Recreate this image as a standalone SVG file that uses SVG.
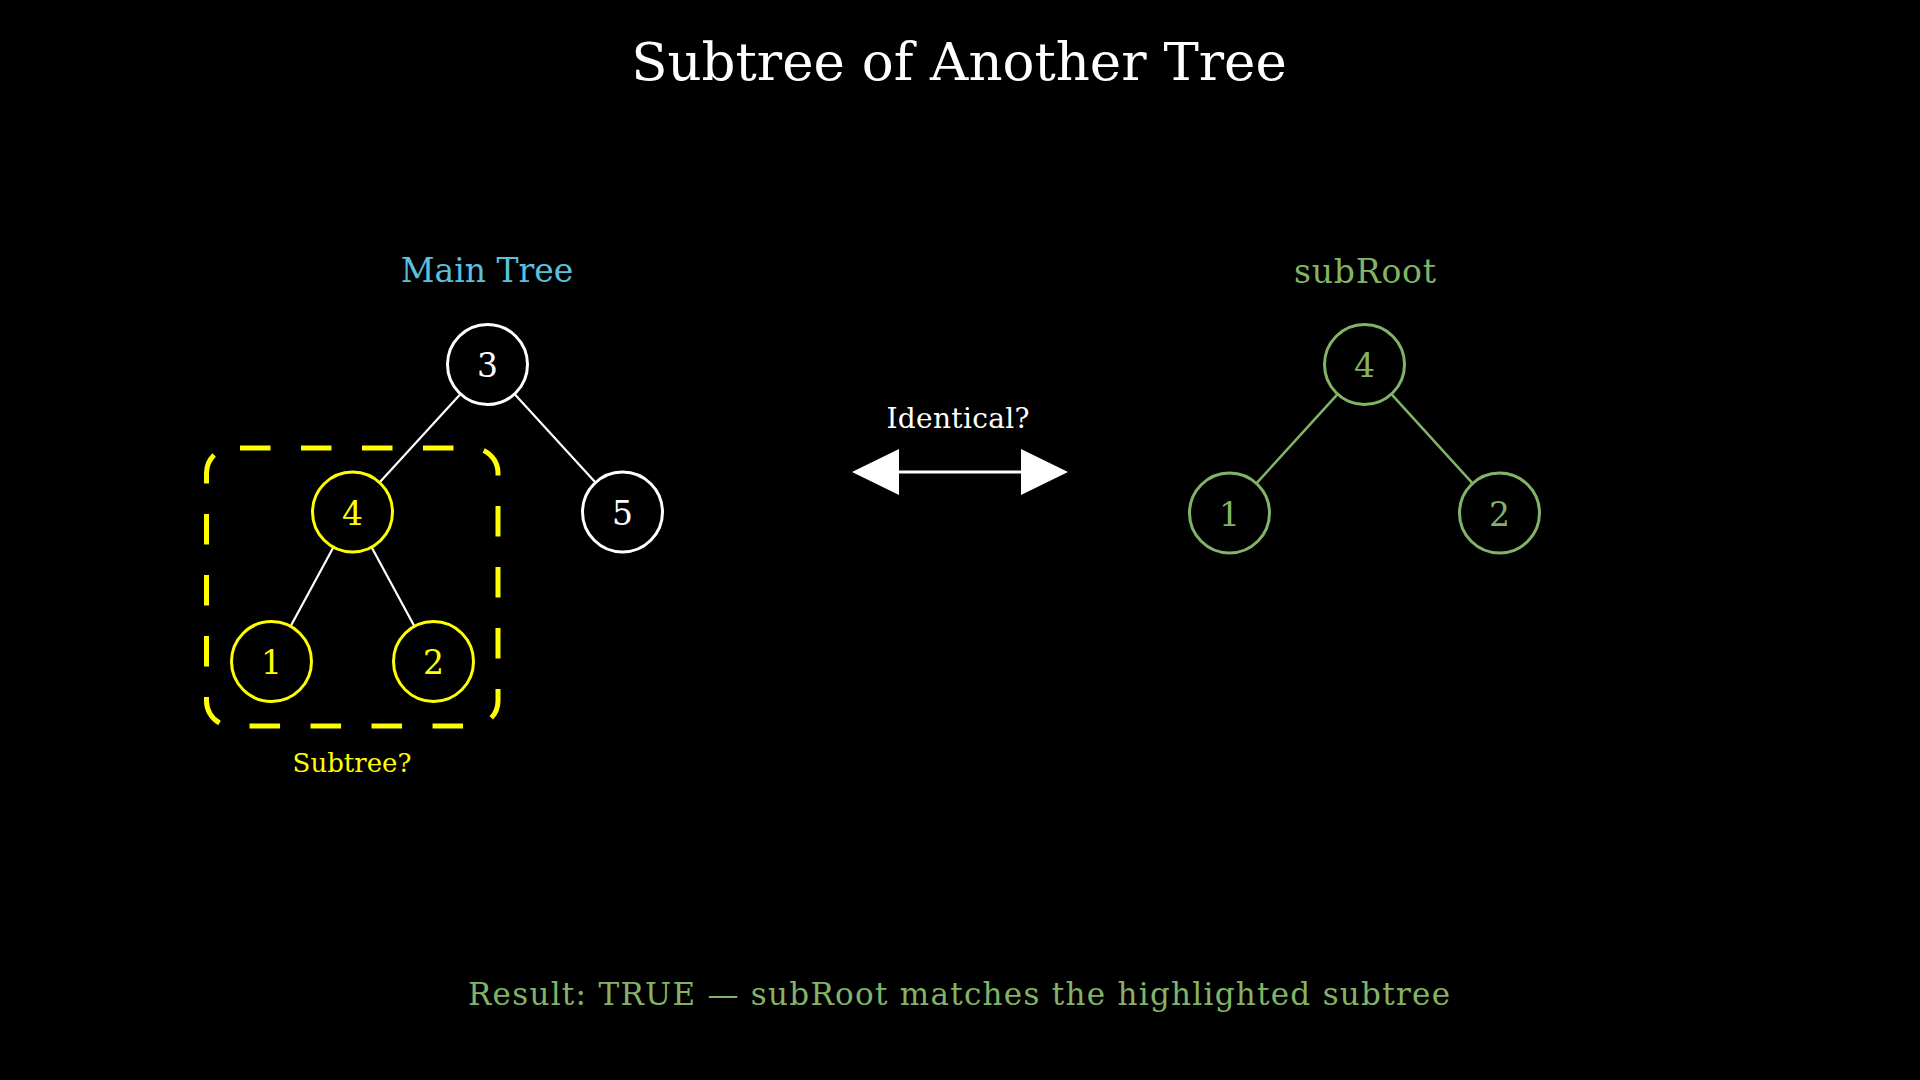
<svg xmlns="http://www.w3.org/2000/svg" width="1920" height="1080" viewBox="0 0 1920 1080">
  <style>
    text { font-family: "DejaVu Serif", "Liberation Serif", serif; text-anchor: middle; }
    .title { font-size: 53px; fill: #ffffff; }
    .lbl { font-size: 33px; }
    .num { font-size: 33px; }
    .w circle { fill: #000000; stroke: #ffffff; stroke-width: 3; }
    .w text { fill: #ffffff; }
    .y circle { fill: #000000; stroke: #ffff00; stroke-width: 3; }
    .y text { fill: #ffff00; }
    .g circle { fill: #000000; stroke: #82b366; stroke-width: 3; }
    .g text { fill: #82b366; }
    .edge-w { stroke: #ffffff; stroke-width: 2.2; fill: none; }
    .edge-g { stroke: #82b366; stroke-width: 2.5; fill: none; }
  </style>
  <defs>
    <marker id="head" viewBox="0 0 47 46" markerUnits="userSpaceOnUse" markerWidth="47" markerHeight="46" refX="0" refY="23" orient="auto-start-reverse">
      <path d="M0,0 L47,23 L0,46 z" fill="#ffffff"/>
    </marker>
  </defs>
  <rect x="0" y="0" width="1920" height="1080" fill="#000000"/>

  <text class="title" x="959" y="80">Subtree of Another Tree</text>
  <text class="lbl" x="487" y="282" fill="#5bc0de">Main Tree</text>
  <text class="lbl" x="1365" y="283" fill="#82b366" textLength="142" lengthAdjust="spacing">subRoot</text>

  <g id="connectors">
    <line class="edge-w" x1="460.5" y1="394" x2="379.5" y2="482.5"/>
    <line class="edge-w" x1="514.5" y1="394" x2="595.5" y2="482.5"/>
    <line class="edge-w" x1="333.4" y1="547.2" x2="290.6" y2="626.3"/>
    <line class="edge-w" x1="371.6" y1="547.2" x2="414.4" y2="626.3"/>
    <line class="edge-g" x1="1337.6" y1="394.1" x2="1256.4" y2="483.4"/>
    <line class="edge-g" x1="1391.4" y1="394.1" x2="1472.6" y2="483.4"/>
    <path d="M899,472 L1021,472" stroke="#ffffff" stroke-width="3" fill="none" marker-start="url(#head)" marker-end="url(#head)"/>
  </g>
  <text x="958" y="428" font-size="28" fill="#ffffff" textLength="143" lengthAdjust="spacing">Identical?</text>

  <g id="subtree-highlight">
    <rect x="206.5" y="448" width="291.5" height="278" rx="25" ry="25" fill="none" stroke="#ffff00" stroke-width="5" stroke-dasharray="30.5 30.5" stroke-dashoffset="52.5"/>
    <text x="352" y="772" font-size="26" fill="#ffff00">Subtree?</text>
  </g>

  <g id="node-main-3" class="w"><circle cx="487.5" cy="364.5" r="40"/><text class="num" x="487.5" y="377">3</text></g>
  <g id="node-main-4" class="y"><circle cx="352.5" cy="512" r="40"/><text class="num" x="352.5" y="524.5">4</text></g>
  <g id="node-main-5" class="w"><circle cx="622.5" cy="512" r="40"/><text class="num" x="622.5" y="524.5">5</text></g>
  <g id="node-main-1" class="y"><circle cx="271.5" cy="661.5" r="40"/><text class="num" x="271.5" y="674">1</text></g>
  <g id="node-main-2" class="y"><circle cx="433.5" cy="661.5" r="40"/><text class="num" x="433.5" y="674">2</text></g>

  <g id="node-sub-4" class="g"><circle cx="1364.5" cy="364.5" r="40"/><text class="num" x="1364.5" y="377">4</text></g>
  <g id="node-sub-1" class="g"><circle cx="1229.5" cy="513" r="40"/><text class="num" x="1229.5" y="525.5">1</text></g>
  <g id="node-sub-2" class="g"><circle cx="1499.5" cy="513" r="40"/><text class="num" x="1499.5" y="525.5">2</text></g>

  <text x="959" y="1005" font-size="31" fill="#82b366" textLength="982" lengthAdjust="spacing">Result: TRUE — subRoot matches the highlighted subtree</text>
</svg>
